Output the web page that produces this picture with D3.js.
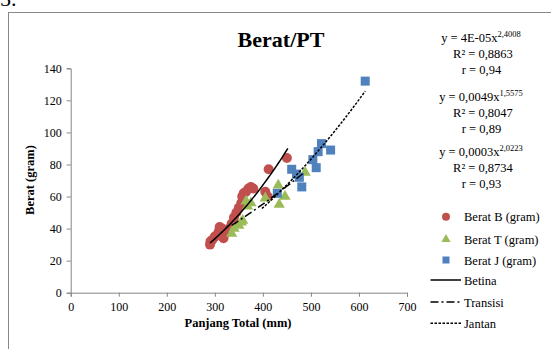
<!DOCTYPE html>
<html><head><meta charset="utf-8">
<script src="https://cdn.jsdelivr.net/npm/d3@7"></script>
<style>body{margin:0;background:#fff}svg{display:block}text{font-family:"Liberation Serif","Times New Roman",serif}</style>
</head><body><svg id="c" width="551" height="349"></svg>
<script>
const xTicks=[0,100,200,300,400,500,600,700];
const yTicks=[0,20,40,60,80,100,120,140];
const beratB=[[290,30],[291,32],[295,33],[300,35],[305,36],[308,38],[310,41],[315,40],[318,34],[322,37],[325,39],[330,40],[335,43],[338,44],[340,47],[345,50],[350,53],[355,56],[357,60],[360,62],[365,63],[370,65],[375,66],[380,65],[405,63],[410,60],[412,77],[450,84]];
const beratT=[[335,37],[340,40],[350,42],[355,44],[358,45],[365,57],[368,54],[375,56],[405,59],[432,67],[434,55],[446,60],[488,75]];
const beratJ=[[430,62],[460,77],[470,74],[476,72],[481,66],[504,83],[511,78],[515,88],[522,93],[541,89],[613,132]];
const fits=[
 {name:"Betina",a:3.8e-5,b:2.4008,x0:290,x1:452,dash:null},
 {name:"Transisi",a:0.0049,b:1.5575,x0:335,x1:488,dash:"8,3,2,3"},
 {name:"Jantan",a:0.00029,b:2.0223,x0:398,x1:613,dash:"2.5,1.5"}
];
const eqs=[["y = 4E-05x","2,4008","R² = 0,8863","r = 0,94"],["y = 0,0049x","1,5575","R² = 0,8047","r = 0,89"],["y = 0,0003x","2,0223","R² = 0,8734","r = 0,93"]];
const svg=d3.select("#c");
const red="#C0504D",green="#9BBB59",blue="#4F81BD",ax="#868686";
svg.append("text").attr("x",0).attr("y",6).attr("font-size",22).text("5.");
svg.append("rect").attr("x",8.5).attr("y",12.5).attr("width",600).attr("height",400).attr("fill","none").attr("stroke","#888").attr("stroke-width",1);
const x=d3.scaleLinear().domain([0,700]).range([70.7,407]);
const y=d3.scaleLinear().domain([0,140]).range([292.7,68.3]);
const gx=svg.append("g").attr("transform","translate(0,292.7)").call(d3.axisBottom(x).tickValues(xTicks).tickSize(4).tickPadding(6));
const gy=svg.append("g").attr("transform","translate(70.7,0)").call(d3.axisLeft(y).tickValues(yTicks).tickSize(4).tickPadding(5));
[gx,gy].forEach(g=>{g.selectAll("path,line").attr("stroke",ax);g.selectAll("text").attr("font-family","Liberation Serif").attr("font-size",12).attr("fill","#000");});
svg.append("text").attr("x",281).attr("y",47).attr("text-anchor","middle").attr("font-size",22).attr("font-weight","bold").text("Berat/PT");
svg.append("text").attr("x",238).attr("y",327).attr("text-anchor","middle").attr("font-size",12.5).attr("font-weight","bold").text("Panjang Total (mm)");
svg.append("text").attr("transform","translate(34,180) rotate(-90)").attr("text-anchor","middle").attr("font-size",12.5).attr("font-weight","bold").text("Berat (gram)");
svg.append("g").selectAll("circle").data(beratB).join("circle").attr("cx",d=>x(d[0])).attr("cy",d=>y(d[1])).attr("r",5).attr("fill",red);
svg.append("g").selectAll("path").data(beratT).join("path").attr("d",d3.symbol(d3.symbolTriangle,55)).attr("transform",d=>`translate(${x(d[0])},${y(d[1])})`).attr("fill",green);
svg.append("g").selectAll("rect").data(beratJ).join("rect").attr("x",d=>x(d[0])-4.5).attr("y",d=>y(d[1])-4.5).attr("width",9).attr("height",9).attr("fill",blue);
const line=d3.line().x(d=>x(d[0])).y(d=>y(d[1]));
fits.forEach(f=>{const pts=d3.range(0,41).map(i=>{const xv=f.x0+(f.x1-f.x0)*i/40;return [xv,f.a*Math.pow(xv,f.b)];});
 svg.append("path").attr("d",line(pts)).attr("fill","none").attr("stroke","#000").attr("stroke-width",1.5).attr("stroke-dasharray",f.dash);});
const eqY=[38.3,96.7,151.7];
eqs.forEach((e,i)=>{const t=svg.append("text").attr("x",481).attr("y",eqY[i]+4).attr("text-anchor","middle").attr("font-size",12.5);
 t.append("tspan").text(e[0]);t.append("tspan").attr("dy",-5).attr("font-size",8.5).text(e[1]);
 svg.append("text").attr("x",483).attr("y",eqY[i]+20).attr("text-anchor","middle").attr("font-size",12.5).text(e[2]);
 svg.append("text").attr("x",481.5).attr("y",eqY[i]+36).attr("text-anchor","middle").attr("font-size",12.5).text(e[3]);});
const lg=svg.append("g");
lg.append("circle").attr("cx",446).attr("cy",216.7).attr("r",4).attr("fill",red);
lg.append("path").attr("d",d3.symbol(d3.symbolTriangle,36)).attr("transform","translate(446,239.3)").attr("fill",green);
lg.append("rect").attr("x",442.5).attr("y",256.5).attr("width",7).attr("height",7).attr("fill",blue);
const lnames=["Berat B (gram)","Berat T (gram)","Berat J (gram)","Betina","Transisi","Jantan"];
const ly=[216.7,239.3,260,280,302,323.3];
fits.forEach((f,i)=>{lg.append("line").attr("x1",430.5).attr("x2",461).attr("y1",ly[i+3]).attr("y2",ly[i+3]).attr("stroke","#000").attr("stroke-width",1.5).attr("stroke-dasharray",f.dash);});
lnames.forEach((n,i)=>lg.append("text").attr("x",464).attr("y",ly[i]+4.5).attr("font-size",12.5).text(n));
</script></body></html>
